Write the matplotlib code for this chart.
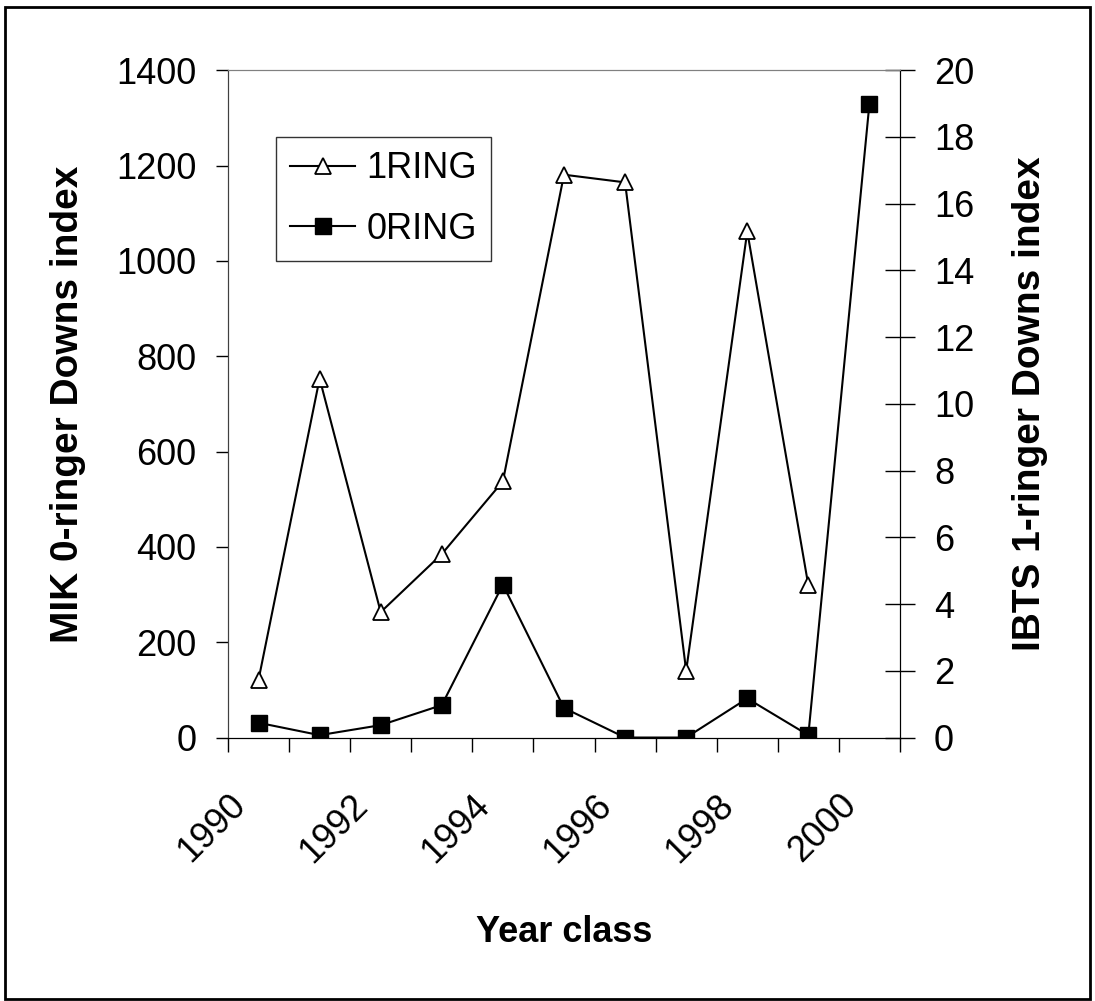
import numpy as np
import matplotlib.pyplot as plt
from matplotlib.patches import Rectangle
from matplotlib.transforms import ScaledTranslation

plt.rcParams['font.family'] = ['Liberation Sans', 'DejaVu Sans']

# data
years = ['1990', '1991', '1992', '1993', '1994', '1995', '1996', '1997', '1998', '1999', '2000']
ring0 = [31, 5, 26, 68, 321, 62, 0, 0, 82, 5, 1330]          # MIK 0-ringer (left axis)
ring1 = [1.73, 10.76, 3.76, 5.5, 7.68, 16.87, 16.64, 2.0, 15.17, 4.56, np.nan]  # IBTS 1-ringer (right axis)

x = np.arange(len(years)) + 0.5

fig = plt.figure(figsize=(10.95, 10.01), dpi=100)
ax = fig.add_axes([0.2082, 0.2632, 0.6137, 0.6666])
ax2 = ax.twinx()

l0, = ax.plot(x, ring0, color='black', lw=1.5, marker='s', ms=11,
              mfc='black', mec='black', label='0RING')
l1, = ax2.plot(x, ring1, color='black', lw=1.5, marker='^', ms=11,
               mfc='white', mec='black', mew=1.3, label='1RING')

ax.set_xlim(0, len(years))
ax.set_ylim(0, 1400)
ax.set_yticks(range(0, 1401, 200))
ax2.set_ylim(0, 20)
ax2.set_yticks(range(0, 21, 2))

# category boundary ticks + labels at every other category centre
ax.set_xticks(np.arange(0, len(years) + 1))
ax.set_xticklabels([])
ax.set_xticks(x[::2], minor=True)
ax.set_xticklabels(years[::2], minor=True, rotation=45, ha='right', va='top',
                   rotation_mode='anchor', fontsize=26)
ax.tick_params(axis='x', which='major', direction='out', length=10, width=1)
ax.tick_params(axis='x', which='minor', length=0, pad=36)
off = ScaledTranslation(-0.31, 0, fig.dpi_scale_trans)
for lab in ax.get_xticklabels(minor=True):
    lab.set_transform(lab.get_transform() + off)

ax.tick_params(axis='y', direction='out', length=8.5, width=1, labelsize=26, pad=14)
ax2.tick_params(axis='y', direction='inout', length=21, width=1, labelsize=26, pad=14)

for a in (ax, ax2):
    a.spines['top'].set_color('#808080')
    a.spines['left'].set_color('#404040')
    a.spines['right'].set_color('black')
    a.spines['bottom'].set_color('black')

ax.set_xlabel('Year class', fontsize=26, fontweight='bold')
ax.xaxis.set_label_coords(0.5, -0.266)
ax.set_ylabel('MIK 0-ringer Downs index', fontsize=28, fontweight='bold')
ax.yaxis.set_label_coords(-0.211, 0.5)
ax2.set_ylabel('IBTS 1-ringer Downs index', fontsize=28, fontweight='bold', rotation=90)
ax2.yaxis.set_label_coords(1.22, 0.5)
ax2.yaxis.label.set_va('bottom')

leg = ax2.legend([l1, l0], ['1RING', '0RING'], loc='upper left',
                 bbox_to_anchor=(276 / 1095, 1 - 137 / 1001), bbox_transform=fig.transFigure,
                 fontsize=26, frameon=True, fancybox=False, edgecolor='black',
                 handlelength=1.8, handletextpad=0.3, labelspacing=0.7,
                 borderpad=0.4, borderaxespad=0)
leg.get_frame().set_linewidth(1)

# outer chart border
fig.patches.append(Rectangle((0.005, 0.002), 0.99, 0.991, transform=fig.transFigure,
                             fill=False, edgecolor='black', lw=2))

fig.savefig('out.png', dpi=100)
